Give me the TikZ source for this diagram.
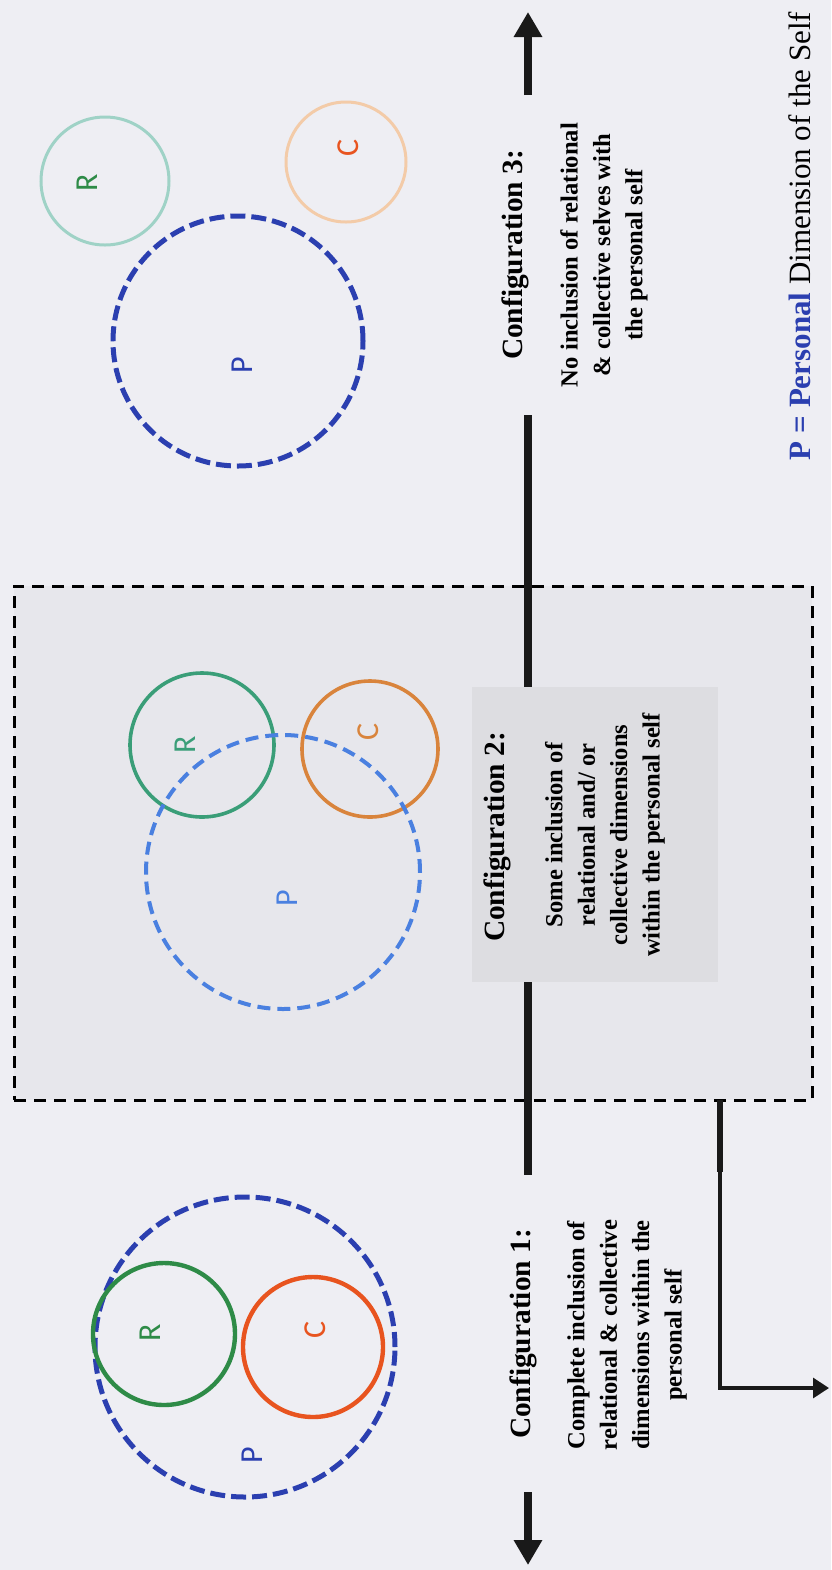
\documentclass[tikz,border=0pt]{standalone}
\usepackage{fontspec}
\setmainfont{Liberation Serif}
\newfontfamily\letterfont{Carlito}
\usetikzlibrary{arrows.meta,positioning}

\definecolor{paper}{HTML}{EEEEF3}
\definecolor{framefill}{HTML}{E7E7EC}
\definecolor{boxfill}{HTML}{DDDDE1}
\definecolor{pblue}{HTML}{2B3FB0}
\definecolor{pblueb}{HTML}{4A80E0}
\definecolor{rgreen}{HTML}{2E8B47}
\definecolor{rgreenb}{HTML}{3A9E78}
\definecolor{rgreenc}{HTML}{9FD2C6}
\definecolor{corange}{HTML}{E8541F}
\definecolor{corangeb}{HTML}{D9843C}
\definecolor{corangec}{HTML}{F3CBA8}

\begin{document}
\begin{tikzpicture}[x=0.5pt,y=-0.5pt,
  every node/.style={inner sep=0pt,outer sep=0pt},
  ring/.style={draw,circle,minimum size=#1},
  pring/.style={ring=#1,line width=2.5pt,dash pattern=on 7.5pt off 3pt},
  letter/.style={font=\letterfont\fontsize{16}{16}\selectfont,rotate=90},
  title/.style={font=\fontsize{14.7}{17}\selectfont\bfseries,rotate=90},
  desc/.style={font=\fontsize{12.3}{16.2}\selectfont\bfseries,rotate=90,align=center},
  axis/.style={line width=4pt,black!90},
  tip/.style={-{Triangle[length=12.5pt,width=13.5pt]}},
]

\path[fill=paper,use as bounding box] (0,0) rectangle (831,1570);

% the dashed frame round configuration 2
\node[draw,fill=framefill,line width=1.5pt,dash pattern=on 6pt off 4pt,
  minimum width=399pt,minimum height=257pt] (frame) at (413,843) {};
\node[fill=boxfill,minimum width=123pt,minimum height=147.5pt] (box2) at (595,834.5) {};

% configuration 1
\node[pring=150pt,pblue] (p1) at (245,1347) {};
\node[ring=71pt,rgreen,line width=2.2pt] (r1) at (164,1334) {};
\node[ring=70pt,corange,line width=2.2pt] (c1) at (313,1347) {};
\node[letter,text=rgreen] (r1l) at (150,1333) {R};
\node[letter,text=corange] (c1l) at (315,1330) {C};
\node[letter,text=pblue] (p1l) at (252,1455) {P};

% configuration 2
\node[ring=72pt,rgreenb,line width=1.8pt] (r2) at (202,745) {};
\node[ring=68pt,corangeb,line width=1.8pt] (c2) at (370,749) {};
\node[ring=137pt,pblueb,line width=2pt,dash pattern=on 6.5pt off 3.5pt] (p2) at (283,872) {};
\node[letter,text=rgreenb] (r2l) at (185,745) {R};
\node[letter,text=corangeb] (c2l) at (368,732) {C};
\node[letter,text=pblueb] (p2l) at (287,898) {P};

% configuration 3
\node[ring=64pt,rgreenc,line width=1.5pt] (r3) at (105,181) {};
\node[ring=60pt,corangec,line width=1.5pt] (c3) at (346,162) {};
\node[pring=125pt,pblue] (p3) at (238,341) {};
\node[letter,text=rgreen] (r3l) at (87,183) {R};
\node[letter,text=corange] (c3l) at (348,148) {C};
\node[letter,text=pblue] (p3l) at (242,365) {P};

% the texts
\node[title] (t1) at (523,1334) {Configuration 1:};
\node[desc] (d1) at (627,1335) {Complete inclusion of\\relational \& collective\\dimensions within the\\personal self};
\node[title] (t2) at (497,837) {Configuration 2:};
\node[desc] (d2) at (605,835) {Some inclusion of\\relational and/ or\\collective dimensions\\within the personal self};
\node[title] (t3) at (515,255) {Configuration 3:};
\node[desc] (d3) at (604,255) {No inclusion of relational\\\& collective selves with\\the personal self};
\node[rotate=90,font=\fontsize{15.5}{18}\selectfont] (key) at (800,236)
  {\textcolor{pblue}{\bfseries P = Personal} Dimension of the Self};

% the axis
\coordinate (up) at (528,12);
\coordinate (a3s) at (528,95);
\coordinate (a3e) at (528,415);
\coordinate (a1s) at (528,1175);
\coordinate (a1e) at (528,1492);
\coordinate (down) at (528,1565);
\draw[axis,tip] (a3s) -- (up);
\draw[axis] (a3e) -- (box2.north -| a3e);
\draw[axis] (box2.south -| a1s) -- (a1s);
\draw[axis,tip] (a1e) -- (down);

% the link out of the frame
\coordinate (k1) at (720,1172);
\coordinate (k2) at (720,1388);
\coordinate (k3) at (829,1388);
\draw[line width=3pt,black!90] (frame.south -| k1) -- (k1);
\draw[line width=1.6pt,black!90,-{Triangle[length=8pt,width=10pt]}] (k1) -- (k2) -- (k3);
\end{tikzpicture}
\end{document}
